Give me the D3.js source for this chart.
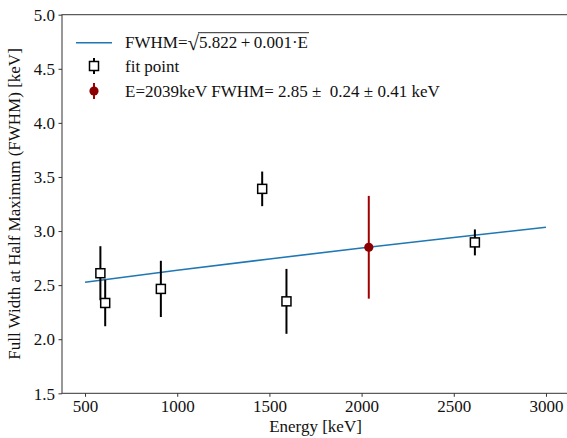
<!DOCTYPE html>
<html>
<head>
<meta charset="utf-8">
<script src="https://cdn.jsdelivr.net/npm/d3@7"></script>
<style>
  body { margin: 0; background: #fff; }
  svg text { font-family: "Liberation Serif", "Times New Roman", serif; }
</style>
</head>
<body>
<svg id="chart" width="567" height="438"></svg>
<script>
// calibration peaks used for the fit
var peakEnergy = [583.2, 609.3, 911.2, 1460.8, 1592.5, 2614.5];
var peakFwhm   = [2.61, 2.335, 2.465, 3.39, 2.35, 2.895];
var peakErr    = [0.25, 0.215, 0.26, 0.16, 0.30, 0.12];

// fitted resolution curve
var curveEnergy = [500, 1000, 1500, 2000, 2500, 3000];
var curveFwhm   = [2.527, 2.637, 2.742, 2.843, 2.941, 3.035];

// value at Q_bb
var qbbEnergy = [2039];
var qbbFwhm   = [2.85];
var qbbStat   = [0.24];
var qbbSys    = [0.41];

var xTicks = [500, 1000, 1500, 2000, 2500, 3000];
var yTicks = [1.5, 2.0, 2.5, 3.0, 3.5, 4.0, 4.5, 5.0];

var serif = '"Liberation Serif", "Times New Roman", serif';
var fs = 17;

var margin = {top: 14.7, left: 62},
    width = 507,
    height = 378.6;

var svg = d3.select('#chart');
var g = svg.append('g').attr('transform', `translate(${margin.left},${margin.top})`);

var x = d3.scaleLinear().domain([375, 3125]).range([0, width]);
var y = d3.scaleLinear().domain([1.5, 5.0]).range([height, 0]);

// fit curve
g.append('path')
  .datum(curveEnergy.map((e, i) => [e, curveFwhm[i]]))
  .attr('fill', 'none')
  .attr('stroke', '#1f77b4')
  .attr('stroke-width', 1.6)
  .attr('d', d3.line().x(d => x(d[0])).y(d => y(d[1])));

// fit points with error bars
var pts = g.append('g');
peakEnergy.forEach(function(e, i) {
  pts.append('line')
    .attr('x1', x(e)).attr('x2', x(e))
    .attr('y1', y(peakFwhm[i] - peakErr[i]))
    .attr('y2', y(peakFwhm[i] + peakErr[i]))
    .attr('stroke', '#000').attr('stroke-width', 2);
});
peakEnergy.forEach(function(e, i) {
  pts.append('rect')
    .attr('x', x(e) - 4.5).attr('y', y(peakFwhm[i]) - 4.5)
    .attr('width', 9).attr('height', 9)
    .attr('fill', '#fff').attr('stroke', '#000').attr('stroke-width', 1.5);
});

// Qbb point, stat and sys errors added in quadrature
qbbEnergy.forEach(function(e, i) {
  var err = Math.sqrt(qbbStat[i] * qbbStat[i] + qbbSys[i] * qbbSys[i]);
  g.append('line')
    .attr('x1', x(e)).attr('x2', x(e))
    .attr('y1', y(qbbFwhm[i] - err)).attr('y2', y(qbbFwhm[i] + err))
    .attr('stroke', '#a00000').attr('stroke-width', 2);
  g.append('circle')
    .attr('cx', x(e)).attr('cy', y(qbbFwhm[i])).attr('r', 4.6)
    .attr('fill', '#8b0000');
});

// axes
var xAxis = g.append('g')
  .attr('transform', `translate(0,${height})`)
  .call(d3.axisBottom(x).tickValues(xTicks).tickSize(3.5).tickPadding(3).tickFormat(d3.format('d')));
var yAxis = g.append('g')
  .call(d3.axisLeft(y).tickValues(yTicks).tickSize(3.5).tickPadding(3.5).tickFormat(d3.format('.1f')));

[xAxis, yAxis].forEach(function(a) {
  a.attr('font-family', serif).attr('font-size', fs);
  a.select('.domain').remove();
  a.selectAll('.tick line').attr('stroke', '#333').attr('stroke-width', 1);
  a.selectAll('.tick text').attr('fill', '#111');
});
yAxis.selectAll('.tick text').attr('dy', '0.34em');

// spines
g.append('rect')
  .attr('width', width).attr('height', height)
  .attr('fill', 'none').attr('stroke', '#333').attr('stroke-width', 1);

// axis labels
svg.append('text')
  .attr('x', margin.left + width / 2).attr('y', 432)
  .attr('text-anchor', 'middle')
  .attr('font-family', serif).attr('font-size', fs).attr('fill', '#111')
  .text('Energy [keV]');
svg.append('text')
  .attr('transform', `translate(20,${margin.top + height / 2}) rotate(-90)`)
  .attr('text-anchor', 'middle')
  .attr('font-family', serif).attr('font-size', fs).attr('fill', '#111')
  .text('Full Width at Half Maximum (FWHM) [keV]');

// legend
var leg = svg.append('g').attr('font-family', serif).attr('font-size', fs).attr('fill', '#111');
var rowY = [42.7, 66, 91];

leg.append('line')
  .attr('x1', 76).attr('x2', 112).attr('y1', rowY[0]).attr('y2', rowY[0])
  .attr('stroke', '#1f77b4').attr('stroke-width', 1.6);

var t1 = leg.append('text').attr('x', 125).attr('y', rowY[0] + 5.5);
t1.append('tspan').text('FWHM=');
t1.append('tspan').attr('font-size', 21).attr('dy', 2).text('\u221A');
var rad = t1.append('tspan').attr('dy', -2).text('5.822\u2009+\u20090.001\u00B7E');
var bb = t1.node().getBBox();
var radStart = rad.node().getStartPositionOfChar(0).x;
leg.append('line')
  .attr('x1', radStart - 1).attr('x2', bb.x + bb.width + 1)
  .attr('y1', rowY[0] - 10).attr('y2', rowY[0] - 10)
  .attr('stroke', '#111').attr('stroke-width', 0.9);

// fit point marker
leg.append('line')
  .attr('x1', 94).attr('x2', 94).attr('y1', rowY[1] - 8).attr('y2', rowY[1] + 8)
  .attr('stroke', '#000').attr('stroke-width', 2);
leg.append('rect')
  .attr('x', 89.5).attr('y', rowY[1] - 4.5).attr('width', 9).attr('height', 9)
  .attr('fill', '#fff').attr('stroke', '#000').attr('stroke-width', 1.5);
leg.append('text').attr('x', 125).attr('y', rowY[1] + 5.5).text('fit point');

// Qbb marker
leg.append('line')
  .attr('x1', 94).attr('x2', 94).attr('y1', rowY[2] - 8).attr('y2', rowY[2] + 8)
  .attr('stroke', '#a00000').attr('stroke-width', 2);
leg.append('circle').attr('cx', 94).attr('cy', rowY[2]).attr('r', 4.6).attr('fill', '#8b0000');
leg.append('text').attr('x', 125).attr('y', rowY[2] + 5.5)
  .style('white-space', 'pre')
  .text(`E=${qbbEnergy[0]}keV FWHM= ${qbbFwhm[0].toFixed(2)} \u00B1  ${qbbStat[0].toFixed(2)} \u00B1 ${qbbSys[0].toFixed(2)} keV`);
</script>
</body>
</html>
